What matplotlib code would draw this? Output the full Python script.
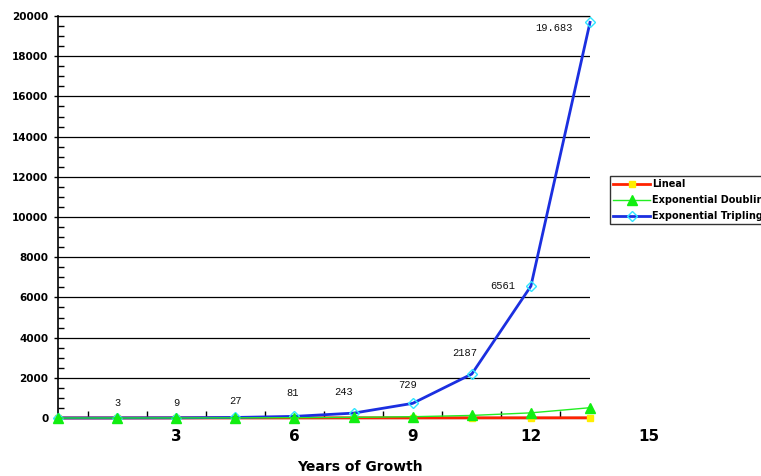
import matplotlib
matplotlib.use("Agg")
import matplotlib.pyplot as plt
import matplotlib.transforms as mtransforms
from matplotlib.ticker import MultipleLocator, FixedLocator

# Generations of growth (one every 1.5 years)
generations = [0, 1, 2, 3, 4, 5, 6, 7, 8, 9]
years_per_generation = 1.5
lineal = [1, 2, 3, 4, 5, 6, 7, 8, 9, 10]
doubling = [1, 2, 4, 8, 16, 32, 64, 128, 256, 512]
tripling = [1, 3, 9, 27, 81, 243, 729, 2187, 6561, 19683]
tripling_labels = ["", "3", "9", "27", "81", "243", "729", "2187", "6561", "19.683"]
year_ticks = [3, 6, 9, 12, 15]

years = [g * years_per_generation for g in generations]

fig = plt.figure(figsize=(7.61, 4.76), dpi=100)
ax = fig.add_axes([58 / 761, 1 - 418 / 476, (590 - 58) / 761, (418 - 16) / 476])

ax.set_xlim(0, years[-1])
ax.set_ylim(0, 20000)

l1, = ax.plot(years, lineal, color="#ff2200", lw=2.0, marker="s", ms=5,
              mfc="#ffee00", mec="#ffee00", zorder=3, clip_on=False, label="Lineal")
l3, = ax.plot(years, tripling, color="#1b2fe0", lw=2.0, marker="D", ms=5.5,
              mfc="none", mec="#2ee6ff", mew=1.0, zorder=4, clip_on=False,
              label="Exponential Tripling")
l2, = ax.plot(years, doubling, color="#22ee22", lw=1.0, marker="^", ms=7.5,
              mfc="#11ee11", mec="#11ee11", zorder=5, clip_on=False,
              label="Exponential Doubling")

# value labels above the tripling points (offsets in points)
offsets = [(0, 0), (0, 11), (0, 11), (0, 12), (-1, 17), (-7, 15), (-4, 13),
           (-5, 15), (-20, 0), (-26, -4)]
for x, y, txt, off in zip(years, tripling, tripling_labels, offsets):
    if txt:
        ax.annotate(txt, (x, y), xytext=off, textcoords="offset points",
                    ha="center", va="center", fontsize=7.5,
                    family="Liberation Mono", color="#111111", zorder=6)

# y axis
ax.yaxis.set_major_locator(MultipleLocator(2000))
ax.yaxis.set_minor_locator(MultipleLocator(500))
ax.tick_params(axis="y", which="major", direction="out", length=3, width=1,
               labelsize=7.5, pad=4)
ax.tick_params(axis="y", which="minor", direction="in", length=4, width=1)
for lab in ax.get_yticklabels():
    lab.set_fontweight("bold")
ax.grid(axis="y", which="major", color="black", lw=0.9)
# the top edge is a dotted frame line, not a grid line
ax.get_ygridlines()[-1].set_visible(False)

# x axis
ax.xaxis.set_major_locator(FixedLocator([]))
ax.xaxis.set_minor_locator(FixedLocator([years_per_generation / 2 + years_per_generation * k
                                         for k in range(len(generations) - 1)]))
ax.tick_params(axis="x", which="minor", direction="in", length=5, width=1)
xtrans = mtransforms.blended_transform_factory(ax.transData, ax.transAxes)
for v in year_ticks:
    ax.text(v, -0.027, str(v), transform=xtrans, ha="center", va="top",
            fontsize=11, fontweight="bold", clip_on=False)
ax.set_xlabel("Years of Growth", fontsize=10, fontweight="bold")
ax.xaxis.set_label_coords((360 - 58) / 532, -0.104)

ax.spines["right"].set_visible(False)
ax.spines["top"].set_linestyle((0, (1, 1)))
ax.spines["top"].set_linewidth(0.9)
ax.spines["left"].set_linewidth(1.2)
ax.spines["bottom"].set_linewidth(1.6)
ax.set_axisbelow(True)

leg = fig.legend(handles=[l1, l2, l3], loc="upper left",
                 bbox_to_anchor=(610 / 761, 1 - 176 / 476),
                 prop={"weight": "bold", "size": 7}, frameon=True, fancybox=False,
                 edgecolor="black", handlelength=3.8, handletextpad=0.15,
                 borderpad=0.35, labelspacing=0.6, borderaxespad=0)
leg.get_frame().set_linewidth(1.0)

fig.savefig("out.png", dpi=100)
